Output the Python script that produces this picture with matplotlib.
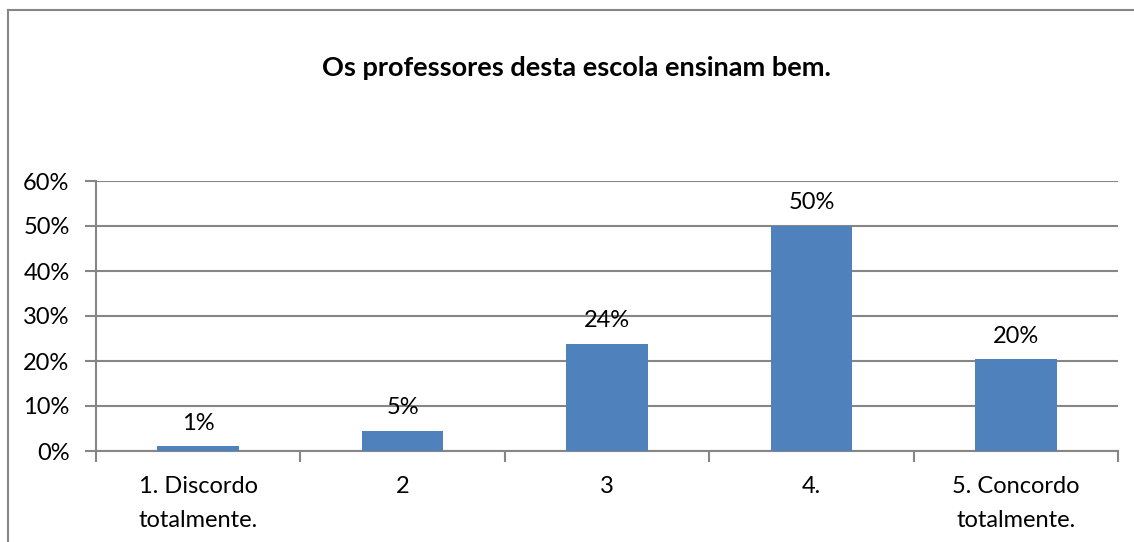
import matplotlib.pyplot as plt
from matplotlib.lines import Line2D
from matplotlib.ticker import FixedLocator, PercentFormatter
import numpy as np

# Data
categories = ["1. Discordo\ntotalmente.", "2", "3", "4.", "5. Concordo\ntotalmente."]
values = [1.1, 4.5, 23.8, 50.1, 20.4]
labels = ["1%", "5%", "24%", "50%", "20%"]
title = "Os professores desta escola ensinam bem."

bar_color = "#4F81BD"
grid_color = "#868686"

plt.rcParams["font.family"] = ["Lato", "DejaVu Sans"]

fig = plt.figure(figsize=(11.34, 5.42), dpi=100)
ax = fig.add_axes([96 / 1134, 1 - 451 / 542, (1118 - 96) / 1134, 270 / 542])

x = np.arange(len(categories))
ax.bar(x, values, width=0.4, color=bar_color, zorder=3)

for xi, v, lab in zip(x, values, labels):
    ax.annotate(lab, (xi, v), xytext=(0, 9), textcoords="offset points",
                ha="center", va="bottom", fontsize=17)

ax.set_xlim(-0.5, len(categories) - 0.5)
ax.set_ylim(0, 60)
ax.set_yticks(np.arange(0, 61, 10))
ax.yaxis.set_major_formatter(PercentFormatter(decimals=0))
ax.yaxis.grid(True, color=grid_color, linewidth=1.5, zorder=0)

ax.set_xticks(x)
ax.set_xticklabels(categories, fontsize=17, linespacing=1.75)
ax.xaxis.set_minor_locator(FixedLocator(np.arange(-0.5, len(categories), 1)))
ax.tick_params(axis="x", which="major", length=0, pad=18)
ax.tick_params(axis="x", which="minor", length=8, width=1.5, color=grid_color)
ax.tick_params(axis="y", length=8, width=1.5, color=grid_color, labelsize=17, pad=11)

for s in ["top", "right"]:
    ax.spines[s].set_visible(False)
for s in ["left", "bottom"]:
    ax.spines[s].set_color(grid_color)
    ax.spines[s].set_linewidth(1.5)

fig.text(576 / 1134, 1 - 68 / 542, title, ha="center", va="center",
         fontsize=19.5, fontweight="bold")

# outer chart frame (top and left edges only visible)
fx, fy = 8 / 1134, 1 - 10 / 542
fig.lines.append(Line2D([fx, 1], [fy, fy], transform=fig.transFigure,
                        color=grid_color, linewidth=1.5))
fig.lines.append(Line2D([fx, fx], [0, fy], transform=fig.transFigure,
                        color=grid_color, linewidth=1.5))

fig.savefig("out.png", dpi=100)
